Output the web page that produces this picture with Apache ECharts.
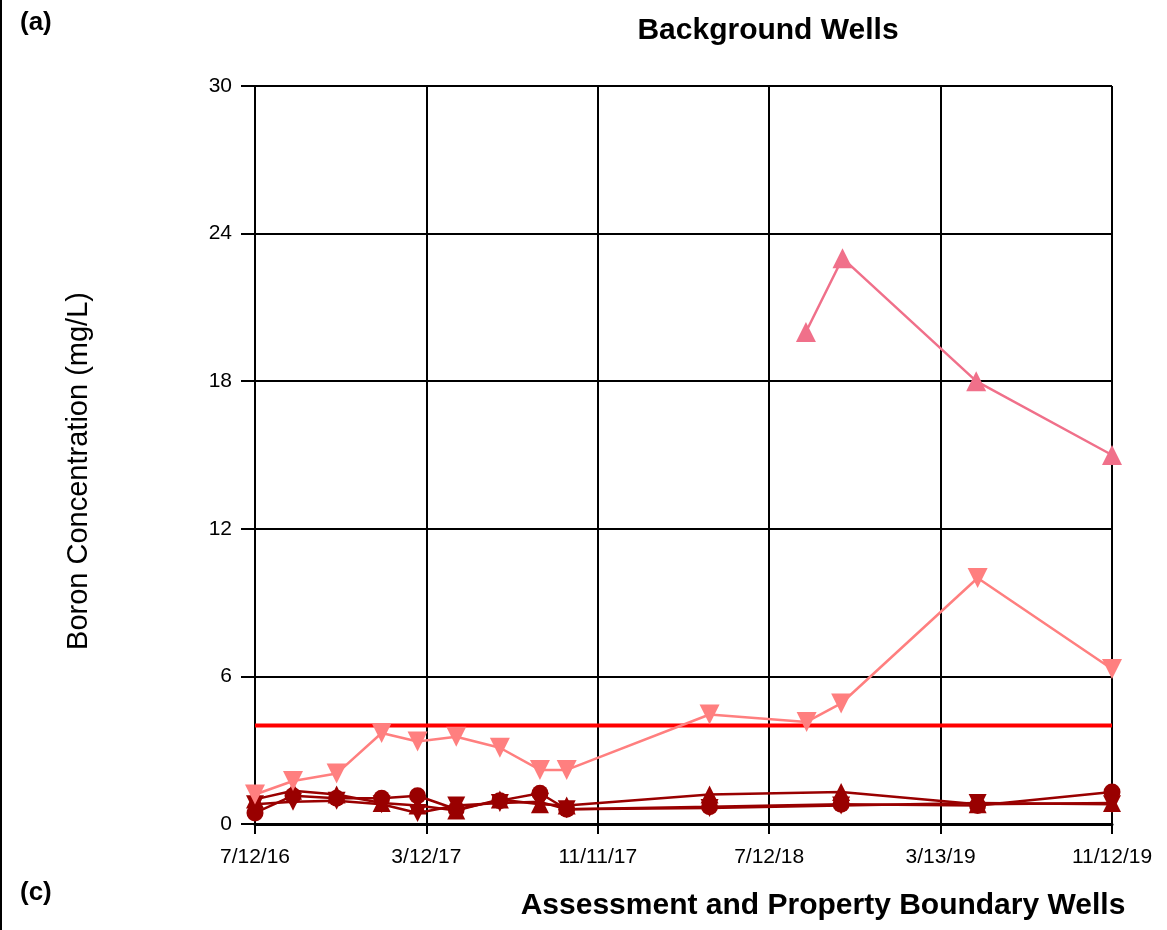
<!DOCTYPE html>
<html><head><meta charset="utf-8">
<script src="https://cdn.jsdelivr.net/npm/echarts@6/dist/echarts.min.js"></script>
<style>html,body{margin:0;padding:0;background:#fff}#c{width:1167px;height:930px}</style>
</head><body><div id="c"></div>
<script>
const startDate = '2016-07-12';
const endDate = '2019-11-12';
const tickLabels = ['7/12/16','3/12/17','11/11/17','7/12/18','3/13/19','11/12/19'];
const yTicks = [0, 6, 12, 18, 24, 30];

// Pink down-triangle well
const pinkDownDates = ['2016-07-12','2016-09-04','2016-11-05','2017-01-08','2017-02-28','2017-04-24','2017-06-25','2017-08-21','2017-09-28','2018-04-19','2018-09-04','2018-10-23','2019-05-05','2019-11-12'];
const pinkDownValues = [1.2, 1.75, 2.05, 3.7, 3.35, 3.55, 3.1, 2.2, 2.2, 4.45, 4.15, 4.9, 10.0, 6.3];

// Pink up-triangle well
const pinkUpDates = ['2018-09-03','2018-10-25','2019-05-03','2019-11-12'];
const pinkUpValues = [20.0, 23.0, 18.0, 15.0];

// Dark red wells
const darkDates = ['2016-07-12','2016-09-04','2016-11-05','2017-01-08','2017-02-28','2017-04-24','2017-06-25','2017-08-21','2017-09-28','2018-04-19','2018-10-23','2019-05-05','2019-11-12'];
const darkCircleValues = [0.45, 1.15, 1.05, 1.05, 1.15, 0.6, 0.95, 1.25, 0.6, 0.7, 0.8, 0.75, 1.3];
const darkUpValues     = [1.0, 1.35, 1.2, 0.85, 0.75, 0.55, 1.0, 0.8, 0.75, 1.2, 1.3, 0.8, 0.85];
const darkDownValues   = [0.8, 0.9, 0.95, 0.8, 0.45, 0.75, 0.85, 0.9, 0.6, 0.65, 0.75, 0.85, 0.8];

const gwps = 4.0;

const DAY = 86400000;
const t0 = Date.parse(startDate);
const totalDays = (Date.parse(endDate) - t0) / DAY;
const step = totalDays / (tickLabels.length - 1);
const toDay = d => (Date.parse(d) - t0) / DAY;
const pairs = (dates, vals) => dates.map((d, i) => [toDay(d), vals[i]]);

const chart = echarts.init(document.getElementById('c'), null, {renderer: 'canvas'});
const font = 'Liberation Sans, Arial, sans-serif';

function mk(name, dates, vals, color, symbol, size, rot) {
  return {
    name, type: 'line', data: pairs(dates, vals),
    symbol, symbolSize: size, symbolRotate: rot || 0,
    lineStyle: {color, width: 2.5}, itemStyle: {color},
    animation: false, z: 3
  };
}

chart.setOption({
  backgroundColor: '#fff',
  animation: false,
  title: [
    {text: 'Background Wells', left: 763, top: 11, textAlign: 'center',
     textStyle: {fontFamily: font, fontWeight: 'bold', fontSize: 30, color: '#000'}},
    {text: 'Assessment and Property Boundary Wells', left: 818, top: 886, textAlign: 'center',
     textStyle: {fontFamily: font, fontWeight: 'bold', fontSize: 30, color: '#000'}},
    {text: '(a)', left: 15, top: 5, textStyle: {fontFamily: font, fontWeight: 'bold', fontSize: 26, color: '#000'}},
    {text: '(c)', left: 15, top: 875, textStyle: {fontFamily: font, fontWeight: 'bold', fontSize: 26, color: '#000'}}
  ],
  graphic: [
    {type: 'line', shape: {x1: 1, y1: 0, x2: 1, y2: 930}, style: {stroke: '#000', lineWidth: 2}},
    {type: 'text', x: 79, y: 471, rotation: Math.PI / 2,
     style: {text: 'Boron Concentration (mg/L)', font: '29px ' + font, fill: '#000',
             align: 'center', verticalAlign: 'middle'}}
  ],
  grid: {left: 255, right: 55, top: 86, bottom: 106, show: false},
  xAxis: {
    type: 'value', min: 0, max: totalDays, interval: step,
    axisLine: {show: true, lineStyle: {color: '#000', width: 3}},
    axisTick: {show: true, length: 10, lineStyle: {color: '#000', width: 2}},
    splitLine: {show: true, lineStyle: {color: '#000', width: 2}},
    axisLabel: {fontFamily: font, fontSize: 21, color: '#000', margin: 23,
      formatter: v => tickLabels[Math.round(v / step)] || ''}
  },
  yAxis: {
    type: 'value', min: yTicks[0], max: yTicks[yTicks.length - 1], interval: yTicks[1] - yTicks[0],
    axisLine: {show: true, lineStyle: {color: '#000', width: 2}},
    axisTick: {show: true, length: 14, inside: false, lineStyle: {color: '#000', width: 2}},
    splitLine: {show: true, lineStyle: {color: '#000', width: 2}},
    axisLabel: {fontFamily: font, fontSize: 21, color: '#000', margin: 23}
  },
  series: [
    {
      name: 'Boundary', type: 'line', data: [[0, gwps], [totalDays, gwps]],
      symbol: 'none', lineStyle: {color: '#ff0000', width: 4}, z: 2, animation: false
    },
    mk('Dark circle', darkDates, darkCircleValues, '#990000', 'circle', 17),
    mk('Dark up', darkDates, darkUpValues, '#990000', 'triangle', 18),
    mk('Dark down', darkDates, darkDownValues, '#990000', 'triangle', 18, 180),
    mk('Pink down', pinkDownDates, pinkDownValues, '#ff7f7f', 'triangle', 20, 180),
    mk('Pink up', pinkUpDates, pinkUpValues, '#f0708a', 'triangle', 20)
  ]
});
</script>
</body></html>
